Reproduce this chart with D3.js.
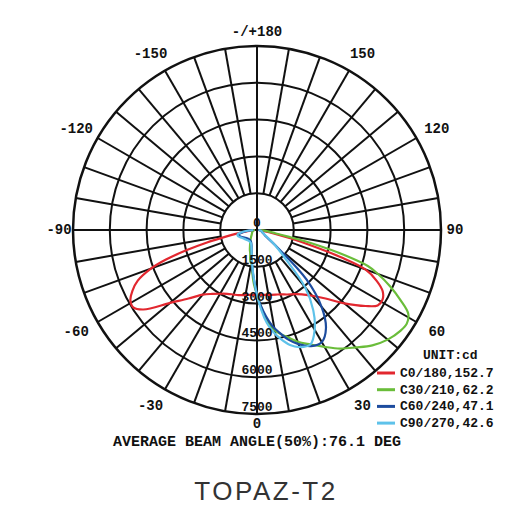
<!DOCTYPE html>
<html>
<head>
<meta charset="utf-8">
<script src="https://cdn.jsdelivr.net/npm/d3@7"></script>
<style>
  html, body { margin: 0; padding: 0; background: #fff; }
  svg { display: block; }
</style>
</head>
<body>
<svg id="chart" width="520" height="520"></svg>
<script>
// ---- data ----
const gammaGrid = [0, 3, 6, 9, 12, 16, 20, 25, 30, 35, 40, 45, 50, 55, 58, 61, 64, 67, 70, 72, 74, 76, 78, 80, 85, 90];

const c0   = [2635, 2645, 2660, 2675, 2700, 2740, 2790, 2900, 3020, 3200, 3500, 3950, 4650, 5400, 5800, 5850, 5700, 5300, 4700, 3600, 2300, 1400, 800, 450, 180, 60];
const c180 = [2635, 2645, 2660, 2680, 2710, 2760, 2800, 2870, 3000, 3180, 3440, 3950, 4620, 5650, 5950, 5900, 5650, 5280, 4600, 3900, 3000, 2100, 1300, 800, 300, 80];

const c30  = [2635, 3150, 3650, 4050, 4300, 4550, 4850, 5150, 5500, 5900, 6250, 6650, 6950, 7150, 7200, 7050, 6500, 5900, 5250, 4750, 3700, 2450, 1300, 750, 300, 100];
const c210 = [2635, 2250, 1800, 1400, 1300, 1000, 850, 670, 550, 450, 380, 320, 280, 250, 240, 230, 220, 210, 200, 190, 180, 170, 160, 150, 120, 80];

const c60  = [2635, 3100, 3550, 3950, 4250, 4650, 4950, 5220, 5280, 4900, 4100, 2850, 1000, 420, 340, 300, 260, 230, 210, 200, 190, 180, 170, 160, 110, 60];
const c240 = [2635, 2100, 1700, 1350, 1050, 800, 650, 560, 520, 500, 500, 510, 530, 560, 590, 620, 660, 700, 740, 760, 770, 760, 720, 650, 400, 150];

const c90  = [2635, 3250, 3800, 4200, 4520, 4880, 5080, 5150, 4700, 4000, 3050, 1600, 950, 500, 380, 320, 280, 250, 220, 210, 200, 190, 180, 160, 110, 60];
const c270 = [2635, 2100, 1650, 1300, 1050, 820, 680, 590, 560, 555, 560, 580, 600, 630, 650, 680, 710, 750, 790, 810, 820, 820, 800, 740, 450, 150];

const seriesNames = ["C0/180,152.7", "C30/210,62.2", "C60/240,47.1", "C90/270,42.6"];
const seriesRight = [c0, c30, c60, c90];
const seriesLeft  = [c180, c210, c240, c270];
const seriesColors = ["#e2272f", "#6abd3a", "#1d4c9e", "#5ec2ea"];

const ringTicks = [1500, 3000, 4500, 6000, 7500];
const angleLabels = [
  [0, "0"], [30, "30"], [60, "60"], [90, "90"], [120, "120"], [150, "150"], [180, "-/+180"],
  [-30, "-30"], [-60, "-60"], [-90, "-90"], [-120, "-120"], [-150, "-150"]
];
const unitText = "UNIT:cd";
const beamText = "AVERAGE BEAM ANGLE(50%):76.1 DEG";
const titleText = "TOPAZ-T2";

// ---- layout ----
const cx = 257, cy = 230, R = 184;
const mono = "'Liberation Mono', 'DejaVu Sans Mono', monospace";
const svg = d3.select("#chart");
const g = svg.append("g").attr("transform", `translate(${cx},${cy})`);
const r = d3.scaleLinear().domain([0, 7500]).range([0, R]);
const toRad = d => d * Math.PI / 180;
// gamma measured from downward direction, positive to the right
const px = (gam, rad) => rad * Math.sin(toRad(gam));
const py = (gam, rad) => rad * Math.cos(toRad(gam));

// grid: spokes every 10 deg
const spokes = d3.range(0, 360, 10);
g.selectAll("line.spoke").data(spokes).enter().append("line")
  .attr("class", "spoke")
  .attr("x1", d => px(d, d % 90 === 0 ? 0 : r(1500)))
  .attr("y1", d => py(d, d % 90 === 0 ? 0 : r(1500)))
  .attr("x2", d => px(d, r(7500)))
  .attr("y2", d => py(d, r(7500)))
  .attr("stroke", "#111").attr("stroke-width", 2);

g.selectAll("circle.ring").data(ringTicks).enter().append("circle")
  .attr("class", "ring")
  .attr("r", d => r(d))
  .attr("fill", "none")
  .attr("stroke", "#111")
  .attr("stroke-width", d => d === 7500 ? 2.5 : 2);

// curves
const line = d3.lineRadial()
  .angle(d => Math.PI - toRad(d.g))
  .radius(d => r(d.v))
  .curve(d3.curveCatmullRom.alpha(0.5));

seriesRight.forEach((right, i) => {
  const left = seriesLeft[i];
  const pts = [];
  for (let k = gammaGrid.length - 1; k >= 1; k--) pts.push({ g: -gammaGrid[k], v: left[k] });
  for (let k = 0; k < gammaGrid.length; k++) pts.push({ g: gammaGrid[k], v: right[k] });
  g.append("path")
    .attr("d", line(pts))
    .attr("fill", "none")
    .attr("stroke", seriesColors[i])
    .attr("stroke-width", 2.2)
    .attr("stroke-linejoin", "round");
});

// ring value labels
g.selectAll("text.rv").data([0].concat(ringTicks)).enter().append("text")
  .attr("class", "rv")
  .attr("x", 0)
  .attr("y", d => r(d) - 3)
  .attr("text-anchor", "middle")
  .attr("font-family", mono).attr("font-weight", "bold").attr("font-size", 13)
  .attr("fill", "#111")
  .text(d => d);

// angle labels
const cardinal = a => Math.abs(a) % 90 === 0;
const labR = a => a === 0 ? 194 : cardinal(a) ? 198 : 203;
const labDx = a => cardinal(a) ? 0 : (a < 0 ? -5 : 4);
g.selectAll("text.al").data(angleLabels).enter().append("text")
  .attr("class", "al")
  .attr("x", d => px(d[0], labR(d[0])) + labDx(d[0]))
  .attr("y", d => py(d[0], labR(d[0])))
  .attr("text-anchor", "middle")
  .attr("dominant-baseline", "central")
  .attr("font-family", mono).attr("font-weight", "bold").attr("font-size", 14)
  .attr("fill", "#111")
  .text(d => d[1]);

// legend
svg.append("text").attr("x", 423).attr("y", 359)
  .attr("font-family", mono).attr("font-weight", "bold").attr("font-size", 13)
  .attr("fill", "#111").text(unitText);
const lg = svg.selectAll("g.leg").data(seriesNames).enter().append("g")
  .attr("class", "leg")
  .attr("transform", (d, i) => `translate(377,${377 + i * 16.7})`);
lg.append("line").attr("x1", 0).attr("x2", 18).attr("y1", -4).attr("y2", -4)
  .attr("stroke", (d, i) => seriesColors[i]).attr("stroke-width", 3);
lg.append("text").attr("x", 23).attr("y", 0)
  .attr("font-family", mono).attr("font-weight", "bold").attr("font-size", 13)
  .attr("fill", "#111").text(d => d);

// beam angle text
svg.append("text").attr("x", 257).attr("y", 446)
  .attr("text-anchor", "middle")
  .attr("font-family", mono).attr("font-weight", "bold").attr("font-size", 15)
  .attr("fill", "#111").text(beamText);

// title
svg.append("text").attr("x", 266).attr("y", 500)
  .attr("text-anchor", "middle")
  .attr("font-family", "'Liberation Sans', Arial, sans-serif").attr("font-size", 26)
  .attr("letter-spacing", 2.5)
  .attr("fill", "#333").text(titleText);
</script>
</body>
</html>
